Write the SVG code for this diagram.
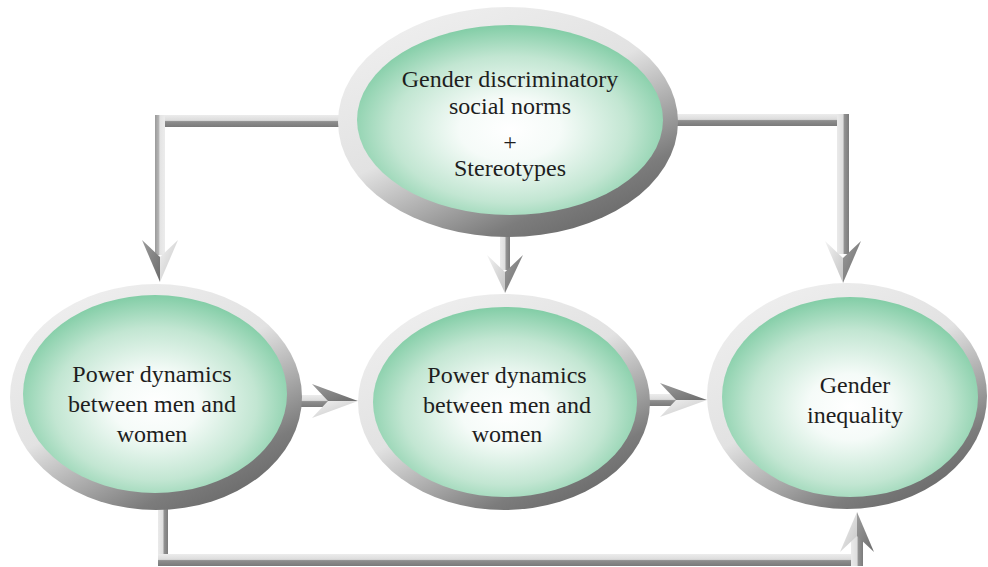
<svg xmlns="http://www.w3.org/2000/svg" width="988" height="567" viewBox="0 0 988 567">
<defs>
<linearGradient id="ringG" x1="0.2" y1="0.05" x2="0.8" y2="0.95">
<stop offset="0" stop-color="#eeeeee"/>
<stop offset="0.45" stop-color="#e2e2e2"/>
<stop offset="0.68" stop-color="#a8a8a8"/>
<stop offset="0.85" stop-color="#7c7c7c"/>
<stop offset="1" stop-color="#6a6a6a"/>
</linearGradient>
<radialGradient id="coreG" cx="0.5" cy="0.55" r="0.55">
<stop offset="0" stop-color="#ffffff"/>
<stop offset="0.3" stop-color="#f5fbf8"/>
<stop offset="0.7" stop-color="#c2e6d2"/>
<stop offset="1" stop-color="#82cda6"/>
</radialGradient>
<linearGradient id="barH" x1="0" y1="0" x2="0" y2="1">
<stop offset="0" stop-color="#ececec"/>
<stop offset="0.45" stop-color="#dcdcdc"/>
<stop offset="0.55" stop-color="#8e8e8e"/>
<stop offset="1" stop-color="#7a7a7a"/>
</linearGradient>
<linearGradient id="barV" x1="0" y1="0" x2="1" y2="0">
<stop offset="0" stop-color="#eaeaea"/>
<stop offset="0.5" stop-color="#dedede"/>
<stop offset="0.6" stop-color="#939393"/>
<stop offset="1" stop-color="#7c7c7c"/>
</linearGradient>
<linearGradient id="barV2" x1="0" y1="0" x2="1" y2="0">
<stop offset="0" stop-color="#9a9a9a"/>
<stop offset="0.35" stop-color="#b4b4b4"/>
<stop offset="0.5" stop-color="#e4e4e4"/>
<stop offset="1" stop-color="#ececec"/>
</linearGradient>
<linearGradient id="headL" x1="0" y1="0" x2="1" y2="1">
<stop offset="0" stop-color="#f2f2f2"/>
<stop offset="1" stop-color="#c4c4c4"/>
</linearGradient>
<linearGradient id="headD" x1="0" y1="0" x2="1" y2="1">
<stop offset="0" stop-color="#9c9c9c"/>
<stop offset="1" stop-color="#6c6c6c"/>
</linearGradient>
</defs>
<rect width="988" height="567" fill="#ffffff"/>

<g id="connectors">
<rect fill="url(#barH)" x="155" y="115" width="245" height="12"/>
<rect fill="url(#barV2)" x="155" y="115" width="10" height="140"/>
<path fill="url(#headD)" d="M142,240 L160,257 L160,282 Z"/>
<path fill="url(#headL)" d="M178,240 L160,257 L160,282 Z"/>
<rect fill="url(#barH)" x="620" y="114" width="229" height="12"/>
<rect fill="url(#barV)" x="837" y="114" width="12" height="140"/>
<path fill="url(#headL)" d="M825,241 L843,258 L843,283 Z"/>
<path fill="url(#headD)" d="M861,241 L843,258 L843,283 Z"/>
<rect fill="url(#barV)" x="500" y="225" width="10" height="45"/>
<path fill="url(#headL)" d="M487,255 L505,272 L505,293 Z"/>
<path fill="url(#headD)" d="M523,255 L505,272 L505,293 Z"/>
<rect fill="url(#barH)" x="290" y="395" width="40" height="12"/>
<path fill="url(#headD)" d="M312,384 L328,401 L358,401 Z"/>
<path fill="url(#headL)" d="M312,418 L328,401 L358,401 Z"/>
<rect fill="url(#barH)" x="640" y="394" width="38" height="12"/>
<path fill="url(#headD)" d="M660,383 L676,400 L707,400 Z"/>
<path fill="url(#headL)" d="M660,417 L676,400 L707,400 Z"/>
<rect fill="url(#barV)" x="158" y="490" width="10" height="76"/>
<rect fill="url(#barH)" x="158" y="554" width="705" height="12"/>
<rect fill="url(#barV)" x="851" y="530" width="12" height="36"/>
<path fill="url(#headL)" d="M840,552 L857,536 L857,512 Z"/>
<path fill="url(#headD)" d="M874,552 L857,536 L857,512 Z"/>
</g>

<g id="node-top">
<ellipse fill="url(#ringG)" cx="508" cy="122" rx="170" ry="115"/>
<ellipse fill="url(#coreG)" cx="510" cy="120" rx="153" ry="95"/>
<text x="510" y="87" font-size="24" font-family="Times New Roman, Liberation Serif, serif" fill="#1e1e1e" text-anchor="middle">Gender discriminatory</text>
<text x="510" y="114" font-size="24" font-family="Times New Roman, Liberation Serif, serif" fill="#1e1e1e" text-anchor="middle">social norms</text>
<text x="510" y="150" font-size="24" font-family="Times New Roman, Liberation Serif, serif" fill="#1e1e1e" text-anchor="middle">+</text>
<text x="510" y="176" font-size="24" font-family="Times New Roman, Liberation Serif, serif" fill="#1e1e1e" text-anchor="middle">Stereotypes</text>
</g>

<g id="node-left">
<ellipse fill="url(#ringG)" cx="156" cy="397" rx="146" ry="113"/>
<ellipse fill="url(#coreG)" cx="155" cy="394" rx="132" ry="99"/>
<text x="152" y="382" font-size="24" font-family="Times New Roman, Liberation Serif, serif" fill="#1e1e1e" text-anchor="middle">Power dynamics</text>
<text x="152" y="412" font-size="24" font-family="Times New Roman, Liberation Serif, serif" fill="#1e1e1e" text-anchor="middle">between men and</text>
<text x="152" y="442" font-size="24" font-family="Times New Roman, Liberation Serif, serif" fill="#1e1e1e" text-anchor="middle">women</text>
</g>

<g id="node-middle">
<ellipse fill="url(#ringG)" cx="504" cy="402" rx="146" ry="108"/>
<ellipse fill="url(#coreG)" cx="505" cy="402" rx="132" ry="95"/>
<text x="507" y="383" font-size="24" font-family="Times New Roman, Liberation Serif, serif" fill="#1e1e1e" text-anchor="middle">Power dynamics</text>
<text x="507" y="413" font-size="24" font-family="Times New Roman, Liberation Serif, serif" fill="#1e1e1e" text-anchor="middle">between men and</text>
<text x="507" y="442" font-size="24" font-family="Times New Roman, Liberation Serif, serif" fill="#1e1e1e" text-anchor="middle">women</text>
</g>

<g id="node-right">
<ellipse fill="url(#ringG)" cx="847" cy="396" rx="140" ry="113"/>
<ellipse fill="url(#coreG)" cx="850" cy="397" rx="128" ry="100"/>
<text x="855" y="393" font-size="24" font-family="Times New Roman, Liberation Serif, serif" fill="#1e1e1e" text-anchor="middle">Gender</text>
<text x="855" y="423" font-size="24" font-family="Times New Roman, Liberation Serif, serif" fill="#1e1e1e" text-anchor="middle">inequality</text>
</g>
</svg>
